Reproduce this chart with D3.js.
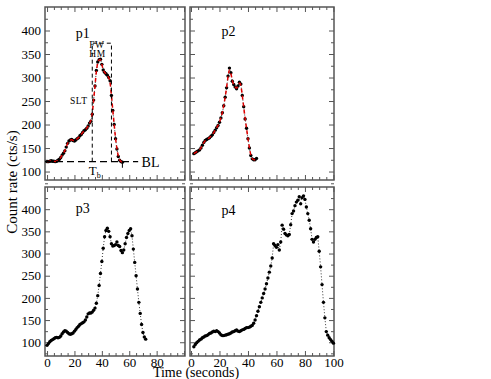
<!DOCTYPE html>
<html>
<head>
<meta charset="utf-8">
<script src="https://cdn.jsdelivr.net/npm/d3@7"></script>
<style>
  body { margin: 0; background: #fff; }
  text { font-family: "Liberation Serif", "DejaVu Serif", serif; fill: #000; }
</style>
</head>
<body>
<script>
// one value per second
const p1Start = 0;
const p1Rate = [121, 121, 122, 123, 122, 122, 121, 122, 124, 126, 130, 135, 139, 144, 152, 160, 165, 167, 168, 166,
  165, 167, 170, 172, 176, 179, 183, 187, 189, 192, 197, 203, 207, 222, 252, 282, 315, 333, 338, 339,
  328, 316, 311, 308, 305, 300, 293, 262, 230, 200, 170, 148, 132, 124, 121, 120];

const p2Start = 2;
const p2Rate = [138, 140, 142, 144, 146, 150, 156, 162, 166, 168, 170, 172, 175, 178, 183, 188, 193, 198, 205, 214,
  225, 240, 258, 278, 303, 320, 310, 292, 285, 280, 276, 282, 290, 286, 262, 238, 212, 192, 170, 150,
  134, 127, 125, 125, 128];

const p3Start = 0;
const p3Rate = [93, 97, 101, 104, 106, 108, 110, 111, 110, 111, 114, 119, 123, 126, 125, 122, 119, 118, 119, 121,
  125, 129, 133, 136, 140, 142, 144, 146, 150, 157, 164, 166, 166, 168, 172, 177, 188, 205, 228, 255,
  282, 312, 338, 352, 357, 350, 338, 322, 317, 318, 320, 326, 318, 316, 307, 302, 308, 322, 336, 345,
  352, 356, 340, 310, 280, 250, 220, 190, 165, 140, 122, 112, 107];

const p4Start = 2;
const p4Rate = [90, 95, 99, 102, 105, 107, 110, 112, 114, 115, 117, 120, 121, 123, 125, 124, 126, 124, 121, 117,
  115, 115, 116, 117, 118, 119, 121, 123, 124, 126, 128, 125, 124, 126, 128, 129, 131, 133, 133, 134,
  136, 138, 143, 150, 160, 170, 180, 190, 200, 210, 220, 232, 245, 258, 272, 290, 322, 318, 314, 320,
  308, 326, 364, 355, 345, 342, 340, 343, 365, 390, 396, 408, 416, 420, 428, 412, 426, 430, 422, 405,
  390, 375, 356, 332, 326, 332, 336, 338, 305, 270, 230, 190, 155, 124, 116, 110, 106, 102, 98];

const yMajor = [100, 150, 200, 250, 300, 350, 400];
const xMajor = [0, 20, 40, 60, 80, 100];

// p1 annotation values
const baseLine = 121;
const tB = 33;
const fwhmEnd = 47;
const boxTop = 373;

const toPoints = (start, rates) => rates.map((v, i) => ({ t: start + i, v: v }));

const svg = d3.select("body").append("svg")
    .attr("width", 491)
    .attr("height", 379);

const panels = [
  { name: "p1", data: toPoints(p1Start, p1Rate), fit: true, px: [45, 185], py: [180, 7], tdom: [-1.5, 100.7], vdom: [82, 450], xText: false, yText: true, label: [21, 385] },
  { name: "p2", data: toPoints(p2Start, p2Rate), fit: true, px: [190, 334], py: [180, 7], tdom: [-0.7, 100.4], vdom: [82, 450], xText: false, yText: false, label: [21.5, 388] },
  { name: "p3", data: toPoints(p3Start, p3Rate), fit: false, px: [45, 185], py: [356, 187], tdom: [-1.5, 100.7], vdom: [69, 450], xText: [0, 20, 40, 60, 80], yText: true, label: [21, 391] },
  { name: "p4", data: toPoints(p4Start, p4Rate), fit: false, px: [190, 334], py: [356, 187], tdom: [-0.7, 100.4], vdom: [69, 450], xText: xMajor, yText: false, label: [21.5, 386] }
];

const frameColor = "#555";

panels.forEach(p => {
  const x = d3.scaleLinear().domain(p.tdom).range(p.px);
  const y = d3.scaleLinear().domain(p.vdom).range(p.py);
  p.x = x; p.y = y;
  const g = svg.append("g");

  const xMinor = d3.range(0, 101, 5).filter(d => d % 20 !== 0);
  const yMinor = d3.range(75, 451, 50);

  function addAxis(axis, tx, ty) {
    const a = g.append("g").attr("transform", `translate(${tx},${ty})`).call(axis);
    a.select(".domain").remove();
    a.selectAll("line").attr("stroke", frameColor).attr("stroke-width", 1);
    a.selectAll("text").attr("font-size", 13).attr("font-family", "Liberation Serif");
    return a;
  }

  // bottom
  addAxis(d3.axisBottom(x).tickValues(xMajor).tickSize(-5).tickPadding(2)
      .tickFormat(d => (p.xText && p.xText.includes(d)) ? d : ""), 0, p.py[0]);
  addAxis(d3.axisBottom(x).tickValues(xMinor).tickSize(-3).tickFormat(""), 0, p.py[0]);
  // top
  addAxis(d3.axisTop(x).tickValues(xMajor).tickSize(-5).tickFormat(""), 0, p.py[1]);
  addAxis(d3.axisTop(x).tickValues(xMinor).tickSize(-3).tickFormat(""), 0, p.py[1]);
  // left
  addAxis(d3.axisLeft(y).tickValues(yMajor).tickSize(-5).tickPadding(4)
      .tickFormat(d => p.yText ? d : ""), p.px[0], 0);
  addAxis(d3.axisLeft(y).tickValues(yMinor).tickSize(-3).tickFormat(""), p.px[0], 0);
  // right
  addAxis(d3.axisRight(y).tickValues(yMajor).tickSize(-5).tickFormat(""), p.px[1], 0);
  addAxis(d3.axisRight(y).tickValues(yMinor).tickSize(-3).tickFormat(""), p.px[1], 0);

  g.append("rect")
      .attr("x", p.px[0]).attr("y", p.py[1])
      .attr("width", p.px[1] - p.px[0]).attr("height", p.py[0] - p.py[1])
      .attr("fill", "none").attr("stroke", frameColor).attr("stroke-width", 1.5);

  const line = d3.line().x(d => x(d.t)).y(d => y(d.v));

  g.append("path").datum(p.data)
      .attr("d", line)
      .attr("fill", "none").attr("stroke", "#000").attr("stroke-width", 0.8)
      .attr("stroke-dasharray", "1,2");

  g.selectAll("circle.pt").data(p.data).join("circle")
      .attr("class", "pt")
      .attr("cx", d => x(d.t)).attr("cy", d => y(d.v))
      .attr("r", 1.7).attr("fill", "#000");

  if (p.fit) {
    g.append("path").datum(p.data)
        .attr("d", line.curve(d3.curveBasis))
        .attr("fill", "none").attr("stroke", "#e00000").attr("stroke-width", 1.5)
        .attr("stroke-dasharray", "4,3");
  }

  g.append("text")
      .attr("x", x(p.label[0])).attr("y", y(p.label[1]))
      .attr("font-size", 14)
      .text(p.name);
});

// p1 annotations
const a = panels[0];
const ann = svg.append("g").attr("fill", "none").attr("stroke", "#000");
ann.append("line")
    .attr("x1", a.px[0]).attr("x2", a.x(66.5))
    .attr("y1", a.y(baseLine)).attr("y2", a.y(baseLine))
    .attr("stroke-width", 1.2).attr("stroke-dasharray", "7,4");
ann.append("path")
    .attr("d", `M${a.x(tB)},${a.y(baseLine)}V${a.y(boxTop)}H${a.x(fwhmEnd)}V${a.y(baseLine)}`)
    .attr("stroke-width", 1).attr("stroke-dasharray", "4,3");
ann.append("line")
    .attr("x1", a.x(55)).attr("x2", a.x(55))
    .attr("y1", a.y(baseLine)).attr("y2", a.y(108))
    .attr("stroke-width", 1);

svg.append("text").attr("x", a.x(69)).attr("y", a.y(baseLine) + 5)
    .attr("font-size", 14).text("BL");
const tb = svg.append("text").attr("x", a.x(30.5)).attr("y", a.y(baseLine) + 13)
    .attr("font-size", 13).text("T");
tb.append("tspan").attr("font-size", 8).attr("dy", 3).text("b");
svg.append("text").attr("x", a.x(16.8)).attr("y", a.y(244))
    .attr("font-size", 9.5).attr("letter-spacing", 0.5).text("SLT");
svg.append("text").attr("x", a.x(36.3)).attr("y", a.y(362))
    .attr("text-anchor", "middle").attr("font-size", 9.5).attr("letter-spacing", 0.5).text("FW");
svg.append("text").attr("x", a.x(36.8)).attr("y", a.y(343))
    .attr("text-anchor", "middle").attr("font-size", 9.5).attr("letter-spacing", 0.5).text("HM");

// axis titles
svg.append("text")
    .attr("transform", "translate(17,182) rotate(-90)")
    .attr("text-anchor", "middle").attr("font-size", 15)
    .text("Count rate (cts/s)");
svg.append("text")
    .attr("x", 196).attr("y", 377)
    .attr("text-anchor", "middle").attr("font-size", 14)
    .text("Time (seconds)");
</script>
</body>
</html>
